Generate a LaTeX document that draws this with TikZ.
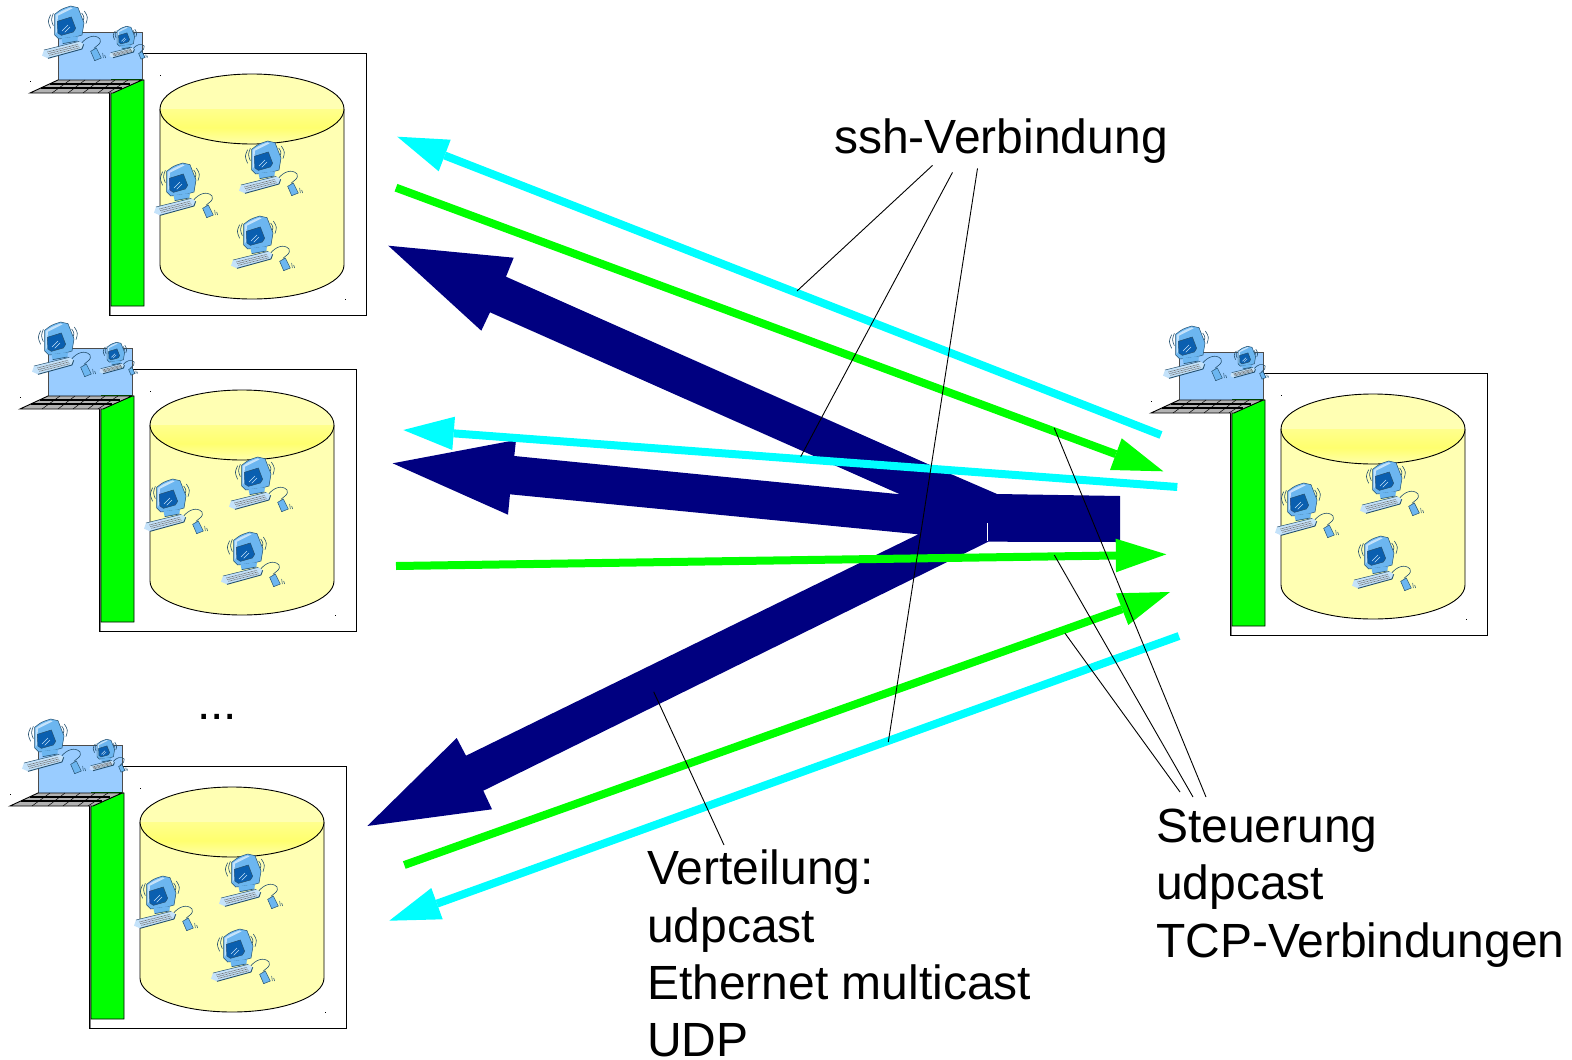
\documentclass[tikz,border=0pt]{standalone}
\usepackage{fontspec}
\setmainfont{Liberation Sans}
\usetikzlibrary{calc}
\definecolor{flowcyan}{HTML}{00FFFF}
\definecolor{flowgreen}{HTML}{00FF00}
\definecolor{flownavy}{HTML}{000080}
\definecolor{cylfill}{HTML}{FFFFB3}
\definecolor{cylmid}{HTML}{FFFF6E}
\definecolor{lapblue}{HTML}{99CCFF}
\definecolor{monblue}{HTML}{6CB6F0}
\definecolor{monlight}{HTML}{C4E2FA}
\definecolor{scrblue}{HTML}{0A5FB0}
\definecolor{icondark}{HTML}{24506F}
\tikzset{
  x=1pt,y=-1pt,
  flowline/.style={line width=8pt},
  leader/.style={draw=black,line width=0.9pt},
  label/.style={anchor=north west,inner sep=0pt,align=left,font=\fontsize{48}{57.2}\selectfont},
  pcicon/.pic={
    \begin{scope}[scale=1/3]
      % motion marks
      \draw[icondark,line width=0.6pt] (38,35) .. controls (29,55) .. (38,76);
      \draw[icondark,line width=0.6pt] (46,31) .. controls (39,50) .. (46,68);
      \draw[icondark,line width=0.6pt] (139,24) .. controls (150,42) .. (144,62);
      \draw[icondark,line width=0.6pt] (131,30) .. controls (139,42) .. (135,54);
      % monitor
      \fill[monblue,draw=icondark,line width=0.5pt] (50,34) .. controls (70,18) .. (98,9) -- (120,14) -- (138,60) -- (132,96) -- (112,102) -- (62,108) -- (50,96) -- cycle;
      \fill[monlight] (53,36) .. controls (70,24) .. (98,13) -- (104,16) -- (60,38) -- (56,90) -- (53,92) -- cycle;
      \fill[scrblue,draw=icondark,line width=0.5pt] (58,55) -- (100,42) -- (113,76) -- (106,87) -- (70,97) -- (60,90) -- cycle;
      \draw[monlight,line width=0.45pt] (72,84) -- (90,66) (80,88) -- (96,72);
      % foot
      \fill[monblue] (70,106) -- (120,100) -- (118,114) -- (74,122) -- cycle;
      \draw[icondark,line width=0.6pt] (74,122) -- (118,114);
      % cable
      \draw[icondark,line width=0.6pt] (128,124) .. controls (145,100) and (172,92) .. (186,108) .. controls (192,122) and (178,126) .. (168,136);
      % keyboard
      \fill[monlight] (18,141) -- (124,115) -- (137,124) -- (132,137) -- (30,166) -- (12,158) -- cycle;
      \draw[icondark,line width=0.5pt] (18,141) -- (124,115);
      \draw[icondark,line width=0.9pt] (30,166) -- (132,138) -- (137,124);
      \foreach \r in {0,1,2}
        \draw[black!55,line width=0.75pt,dash pattern=on 0.9pt off 0.6pt]
          ($(28,147)+(\r*3,\r*5)$) -- ($(120,124)+(\r*3,\r*5)$);
      % mouse
      \fill[monblue,draw=icondark,line width=0.5pt] (158,145) -- (175,135) -- (190,165) -- (170,173) -- cycle;
      \draw[icondark,line width=0.5pt] (194,150) -- (196,165) (200,156) -- (203,165);
    \end{scope}
  },
  serverunit/.pic={
    % outer frame
    \draw[black,line width=0.9pt,fill=white] (109.5,53.5) rectangle (366,315);
    % rack bar
    \fill[gray] (109.5,94) rectangle (111,315);
    \draw[black,line width=0.9pt,fill=flowgreen] (111,306) -- (111,93) -- (142,80) -- (144,80) -- (144,306) -- cycle;
    % cylinder body
    \draw[black,line width=0.9pt,fill=cylfill] (160,109) -- (160,265) arc[start angle=180,end angle=0,x radius=92,y radius=34] -- (344,109);
    \begin{scope}
      \clip (252,109) ellipse[x radius=92,y radius=35];
      \fill[cylfill] (160,74) rectangle (344,109);
      \shade[top color=cylmid!55!cylfill,bottom color=cylfill,middle color=cylmid] (160,109) rectangle (344,146);
    \end{scope}
    \draw[black,line width=0.9pt] (252,109) ellipse[x radius=92,y radius=35];
    \pic at (235,138) {pcicon};
    \pic at (150,160) {pcicon};
    \pic at (227,213) {pcicon};
    % laptop
    \draw[black!70,line width=0.9pt,fill=lapblue] (58,32) rectangle (142,80);
    \draw[black!60!green,line width=1.4pt] (111,80) -- (142,80);
    \draw[black,line width=0.9pt,fill=gray!60] (30,93) -- (58,80) -- (142,80) -- (113,93) -- cycle;
    \draw[black,line width=1.2pt] (50,84) -- (130,84) (41,88) -- (122,88);
    \draw[black,line width=0.5pt] (70,80) -- (52,93) (85,80) -- (68,93) (100,80) -- (83,93) (115,80) -- (98,93) (128,80) -- (108,93);
    \pic at (38,3) {pcicon};
    \pic[scale=0.6] at (107,24.5) {pcicon};
    % specks
    \fill[black] (29.5,81) rectangle (30.5,82);
    \fill[black] (159.5,74.5) rectangle (160.5,75.5);
    \fill[black] (344.5,298.5) rectangle (345.5,299.5);
  }
}
\newcommand{\flowarrow}[6]{%
  \coordinate (#1s) at #3;
  \coordinate (#1t) at #4;
  \coordinate (#1a) at #5;
  \coordinate (#1b) at #6;
  \coordinate (#1m) at ($(#1a)!.5!(#1b)$);
  \draw[flowline,draw=#2] (#1s) -- (#1m);
  \fill[#2] (#1t) -- (#1a) -- (#1b) -- cycle;
}
\begin{document}
\begin{tikzpicture}
\useasboundingbox (0,0) rectangle (1572,1060);
\pic at (0,0) {serverunit};
\pic at (-10,316) {serverunit};
\pic at (-20,713) {serverunit};
\pic at (1121,320) {serverunit};
% distribution star
\fill[flownavy] (1120,496) -- (997,494) -- (930,465) -- (506,276.7) -- (513.7,257.7) -- (388.3,245.7)
  -- (481.3,330.7) -- (490,312.3) -- (900,494.3) -- (514.3,456) -- (516,440) -- (392.7,463.3)
  -- (508,514.7) -- (510,494.3) -- (918.3,534.3) -- (466,755.7) -- (456.7,738) -- (367.3,826)
  -- (492,809.3) -- (483.3,790.7) -- (988.3,541.7) -- (1120,542) -- cycle;
\draw[white,line width=0.5pt] (987.3,523) -- (987.3,540.5);
% control and ssh flows
\flowarrow{ca}{flowcyan}{(1161,435)}{(397.3,136.7)}{(450.7,139.7)}{(438.7,171.3)}
\flowarrow{ga}{flowgreen}{(396,187.7)}{(1163.3,471.3)}{(1121.7,438.3)}{(1110,470)}
\flowarrow{cb}{flowcyan}{(1177.3,487)}{(403.3,430)}{(455,416.7)}{(452.3,450)}
\flowarrow{gb}{flowgreen}{(396,566)}{(1166.3,554.3)}{(1115.7,538.7)}{(1116,572.3)}
\flowarrow{gc}{flowgreen}{(404.3,865)}{(1170,592)}{(1116,593.3)}{(1128.3,625)}
\flowarrow{cc}{flowcyan}{(1179,636)}{(389.3,920.7)}{(431.3,888)}{(442.7,919.3)}
% labels
\node[label] (ssh) at (834,119) {ssh-Verbindung};
\node[label] (dots) at (197,714) {...};
\node[label] (vert) at (647,850) {Verteilung:\\udpcast\\Ethernet multicast\\UDP};
\node[label] (steu) at (1156,809) {Steuerung\\udpcast\\TCP-Verbindungen};
% leader lines
\coordinate (s1) at (932.5,165.4); \coordinate (e1) at (797,291);
\coordinate (s2) at (952.5,172.4); \coordinate (e2) at (800.7,456.7);
\coordinate (s3) at (977.5,168.4); \coordinate (e3) at (888.3,742);
\coordinate (t1) at (1206,797);    \coordinate (f1) at (1054.3,428);
\coordinate (t2) at (1193,797);    \coordinate (f2) at (1054.3,555);
\coordinate (t3) at (1180,792);    \coordinate (f3) at (1065,633.3);
\coordinate (v1) at (724,845);     \coordinate (v2) at (653.7,691.8);
\draw[leader] (s1) -- (e1);
\draw[leader] (s2) -- (e2);
\draw[leader] (s3) -- (e3);
\draw[leader] (t1) -- (f1);
\draw[leader] (t2) -- (f2);
\draw[leader] (t3) -- (f3);
\draw[leader] (v1) -- (v2);
\end{tikzpicture}
\end{document}
